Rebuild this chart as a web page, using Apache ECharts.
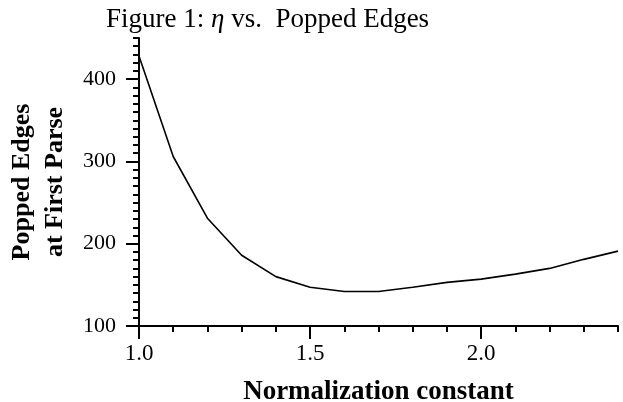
<!DOCTYPE html>
<html>
<head>
<meta charset="utf-8">
<script src="https://cdn.jsdelivr.net/npm/echarts@6/dist/echarts.min.js"></script>
<style>html,body{margin:0;padding:0;background:#fff}#c{width:623px;height:402px}</style>
</head>
<body>
<div id="c"></div>
<script>
var xValues = [1.0, 1.1, 1.2, 1.3, 1.4, 1.5, 1.6, 1.7, 1.8, 1.9, 2.0, 2.1, 2.2, 2.3, 2.4];
var poppedEdges = [428, 306, 231, 186, 160, 147, 142, 142, 147, 153, 157, 163, 170, 181, 191];
var xTickLabels = [1.0, 1.5, 2.0];
var yTickLabels = [100, 200, 300, 400];

var serif = '"Liberation Serif", "DejaVu Serif", serif';
var chart = echarts.init(document.getElementById('c'), null, {renderer: 'canvas'});
var data = xValues.map(function (x, i) { return [x, poppedEdges[i]]; });

chart.setOption({
  animation: false,
  backgroundColor: '#fff',
  title: {
    text: 'Figure 1: {e|η} vs.  Popped Edges',
    left: 101, top: 1,
    textStyle: {
      fontFamily: serif, fontSize: 27, fontWeight: 'normal', color: '#000',
      rich: { e: { fontFamily: serif, fontSize: 27, fontStyle: 'italic', color: '#000' } }
    }
  },
  grid: { left: 139, right: 5, top: 38, bottom: 76, containLabel: false, outerBoundsMode: 'none' },
  xAxis: [{
    type: 'value', min: 1.0, max: 2.4, interval: 0.5,
    name: 'Normalization constant', nameLocation: 'middle', nameGap: 53,
    nameTextStyle: { fontFamily: serif, fontSize: 27, fontWeight: 'bold', color: '#000' },
    axisLine: { lineStyle: { color: '#000', width: 2 } },
    axisTick: { length: 13, lineStyle: { color: '#000', width: 2 }, customValues: xTickLabels },
    axisLabel: { customValues: xTickLabels, fontFamily: serif, fontSize: 23, color: '#000', margin: 16,
      formatter: function (v) { return v.toFixed(1); } },
    splitLine: { show: false }
  }, {
    type: 'value', min: 1.0, max: 2.4, interval: 0.1, position: 'bottom',
    axisLine: { show: false },
    axisTick: { length: 6, lineStyle: { color: '#000', width: 2 } },
    axisLabel: { show: false },
    splitLine: { show: false }
  }],
  yAxis: [{
    type: 'value', min: 100, max: 450, interval: 100,
    name: 'Popped Edges\nat First Parse', nameLocation: 'middle', nameGap: 66, nameRotate: 90,
    nameTextStyle: { fontFamily: serif, fontSize: 26, fontWeight: 'bold', color: '#000', lineHeight: 33 },
    axisLine: { lineStyle: { color: '#000', width: 2 } },
    axisTick: { length: 13, lineStyle: { color: '#000', width: 2 }, customValues: yTickLabels },
    axisLabel: { customValues: yTickLabels, fontFamily: serif, fontSize: 22, color: '#000', margin: 23 },
    splitLine: { show: false }
  }, {
    type: 'value', min: 100, max: 450, interval: 10, position: 'left',
    axisLine: { show: false },
    axisTick: { length: 6, lineStyle: { color: '#000', width: 2 } },
    axisLabel: { show: false },
    splitLine: { show: false }
  }],
  series: [{
    type: 'line', xAxisIndex: 0, yAxisIndex: 0, data: data,
    showSymbol: false, symbol: 'none',
    lineStyle: { color: '#000', width: 1.6 }
  }]
});
</script>
</body>
</html>
